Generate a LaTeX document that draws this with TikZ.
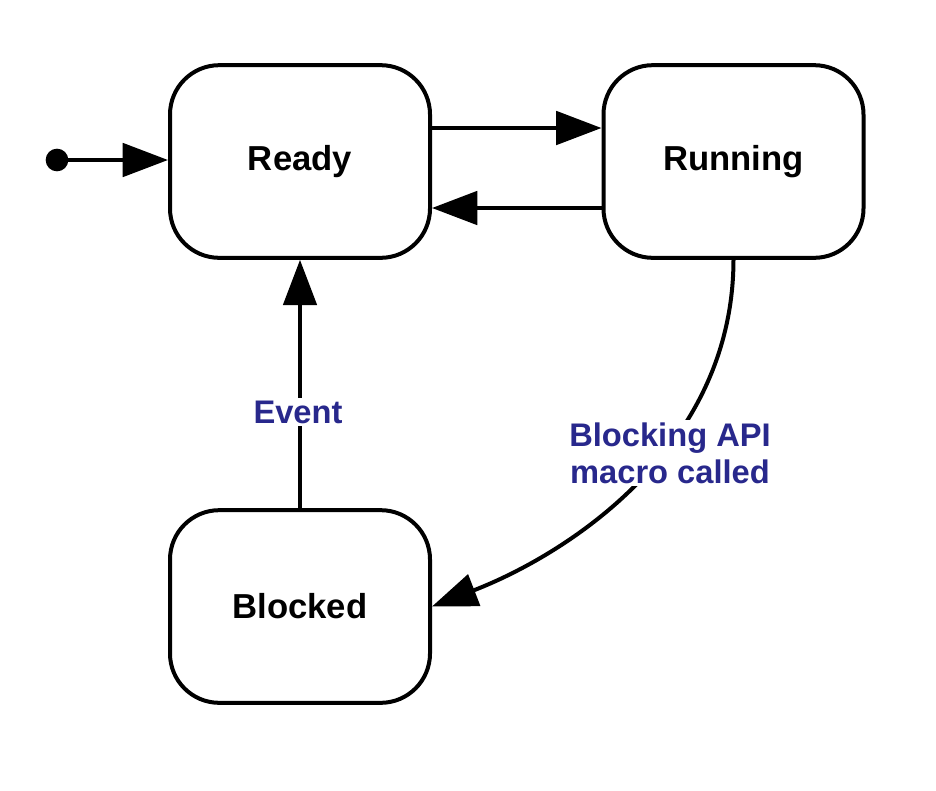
\documentclass[tikz,border=0pt]{standalone}
\usepackage{fontspec}
\setmainfont{Liberation Sans}
\usetikzlibrary{arrows.meta}
\definecolor{lblblue}{RGB}{40,40,140}
\begin{document}
\begin{tikzpicture}[x=0.75pt,y=-0.75pt,
  state/.style={draw,line width=3pt,rounded corners=37pt,minimum width=195pt,minimum height=144.5pt,font=\bfseries\fontsize{26}{30}\selectfont},
  arr/.style={line width=3pt,-{Triangle[length=34pt,width=25pt]}},
  lbl/.style={fill=white,text=lblblue,font=\bfseries\fontsize{24.5}{28}\selectfont,align=center,inner sep=2pt}]
\useasboundingbox (0,0) rectangle (936,790);
\node[state] (ready) at (300,161.5) {Ready};
\node[state] (running) at (733.5,161.5) {Running};
\node[state] (blocked) at (300,606.5) {Blocked};
\fill (57,160) circle (8.5pt) coordinate (init);
\draw[arr] (init) -- (ready.west |- init);
\draw[arr] (ready.east |- {(0,128)}) -- (running.west |- {(0,128)});
\draw[arr] (running.west |- {(0,208)}) -- (ready.east |- {(0,208)});
\draw[arr] (blocked.north) -- (ready.south);
\node[lbl] (ev) at (298,412) {Event};
\draw[arr] (running.south) .. controls (733,450) and (565,555) .. (blocked.east);
\node[lbl] (blk) at (670,453) {Blocking API\\macro called};
\end{tikzpicture}
\end{document}
